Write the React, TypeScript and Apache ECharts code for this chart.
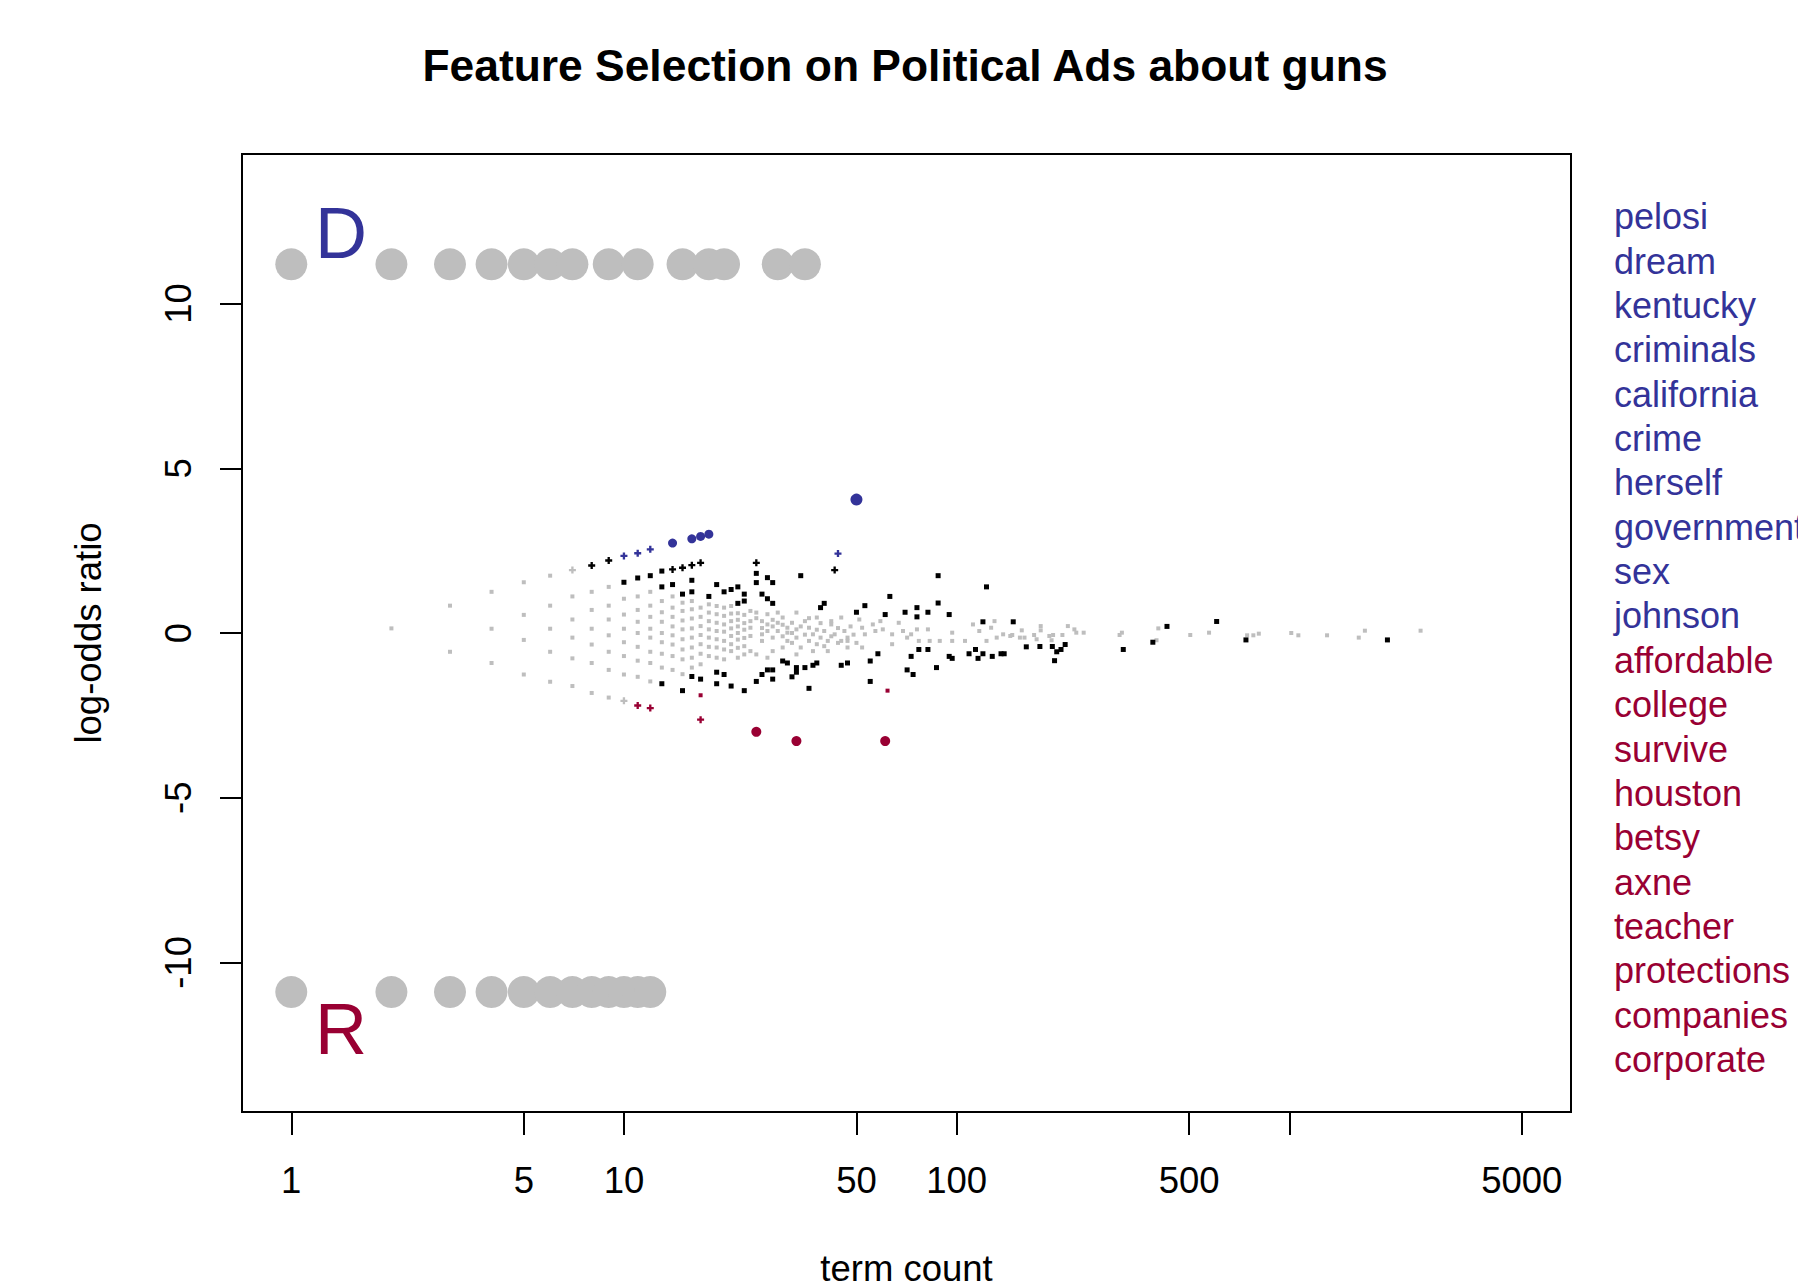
import React, { useEffect, useRef } from "react";
import * as echarts from "echarts";

// ---------- DATA ----------
const titleText = "Feature Selection on Political Ads about guns";
const xAxisTitle = "term count";
const yAxisTitle = "log-odds ratio";

const xTickCounts = [1, 5, 10, 50, 100, 500, 1000, 5000];
const xLabelCounts = [1, 5, 10, 50, 100, 500, 5000];
const yTickValues = [-10, -5, 0, 5, 10];
const xRangeCounts = [0.711, 7030];
const yRange = [-14.54, 14.54];

// words used only by Democrats / only by Republicans: [term count, log-odds]
const demOnly = [
  [1, 11.19], [2, 11.19], [3, 11.19], [4, 11.19], [5, 11.19], [6, 11.19], [7, 11.19],
  [9, 11.19], [11, 11.19], [15, 11.19], [18, 11.19], [20, 11.19], [29, 11.19], [35, 11.19],
];
const repOnly = [
  [1, -10.9], [2, -10.9], [3, -10.9], [4, -10.9], [5, -10.9], [6, -10.9], [7, -10.9],
  [8, -10.9], [9, -10.9], [10, -10.9], [11, -10.9], [12, -10.9],
];

// non-significant terms
const grayPoints = [
  [2, 0.14],
  [3, 0.83], [3, -0.57],
  [4, 1.25], [4, 0.13], [4, -0.91],
  [5, 1.54], [5, 0.55], [5, -0.21], [5, -1.26],
  [6, 1.74], [6, 0.83], [6, 0.13], [6, -0.57], [6, -1.48],
  [7, 1.11], [7, 0.41], [7, -0.14], [7, -0.77], [7, -1.61],
  [8, 1.25], [8, 0.7], [8, 0.13], [8, -0.35], [8, -0.91], [8, -1.82],
  [9, 1.4], [9, 0.83], [9, 0.41], [9, -0.07], [9, -0.57], [9, -1.12], [9, -1.96],
  [10, 1.04], [10, 0.56], [10, 0.13], [10, -0.28], [10, -0.7], [10, -1.26],
  [11, 1.11], [11, 0.7], [11, 0.34], [11, 0.0], [11, -0.42], [11, -0.84], [11, -1.33],
  [12, 1.25], [12, 0.83], [12, 0.49], [12, 0.13], [12, -0.14], [12, -0.57], [12, -0.91], [12, -1.47],
  [13, 0.97], [13, 0.63], [13, 0.34], [13, 0.0], [13, -0.28], [13, -0.63], [13, -1.05],
  [14, 1.11], [14, 0.77], [14, 0.49], [14, 0.2], [14, -0.07], [14, -0.35], [14, -0.7], [14, -1.12],
  [15, 0.92], [15, 0.67], [15, 0.38], [15, 0.11], [15, -0.19], [15, -0.5], [15, -0.8], [15, -1.25],
  [16, 0.97], [16, 0.72], [16, 0.44], [16, 0.14], [16, -0.14], [16, -0.44], [16, -0.75], [16, -1.05],
  [17, 0.77], [17, 0.49], [17, 0.21], [17, -0.06], [17, -0.34], [17, -0.63], [17, -0.95],
  [18, 0.87], [18, 0.62], [18, 0.36], [18, 0.11], [18, -0.14], [18, -0.42], [18, -0.7],
  [19, 0.82], [19, 0.57], [19, 0.31], [19, 0.06], [19, -0.19], [19, -0.44], [19, -0.75],
  [20, 0.77], [20, 0.52], [20, 0.26], [20, 0.04], [20, -0.24], [20, -0.5], [20, -0.8],
  [21, 0.82], [21, 0.59], [21, 0.36], [21, 0.14], [21, -0.09], [21, -0.34], [21, -0.55],
  [22, 0.6], [22, 0.4], [22, 0.2], [22, 0.0], [22, -0.2], [22, -0.45], [22, -0.75],
  [23, 0.55], [23, 0.3], [23, 0.1], [23, -0.15], [23, -0.4], [23, -0.65],
  [24, 0.67], [24, 0.16], [24, 0.36], [24, -0.09], [25, 0.62], [26, 0.36], [26, -0.04], [26, -0.24],
  [27, 0.26], [27, 0.06], [27, 0.57], [28, -0.14], [29, 0.62], [29, 0.31], [29, 0.06], [30, 0.47],
  [31, 0.16], [31, 0.01], [31, -0.24], [32, 0.31], [33, 0.11], [33, 0.62], [33, -0.14], [34, -0.44],
  [35, 0.36], [36, 0.16], [36, -0.24], [37, -0.04], [38, 0.47], [38, -0.34], [39, -0.14], [40, 0.06],
  [41, -0.24], [42, 0.26], [42, 0.36], [43, -0.04], [45, -0.24], [46, 0.06], [47, -0.14], [47, -0.44],
  [24, -0.55], [25, -0.65], [27, -0.75], [28, -0.55], [30, -0.44], [33, -0.65], [37, -0.55], [41, -0.55],
  [25, 0.45], [26, 0.15], [28, 0.4], [28, 0.2], [30, 0.25], [30, -0.1], [32, 0.0], [32, -0.3],
  [34, 0.2], [35, -0.05], [36, 0.45], [38, 0.1], [39, 0.3], [40, -0.4], [42, -0.1], [44, 0.15],
  [44, -0.3], [48, 0.2], [49, -0.05], [50, -0.3],
  [45, 0.47], [51, 0.41], [52, 0.16], [53, -0.04], [56, 0.26], [57, 0.06], [59, 0.36], [60, 0.11],
  [64, -0.04], [67, 0.31], [69, 0.06], [71, -0.14], [73, -0.04], [76, 0.11], [77, -0.24], [82, 0.11],
  [83, -0.24], [89, -0.24], [97, 0.01], [97, -0.24], [106, -0.24], [112, 0.26], [117, 0.06], [123, -0.24],
  [127, 0.16], [130, 0.36], [132, -0.14], [138, -0.04], [145, -0.09], [47, -0.24], [52, -0.44], [64, -0.34],
  [147, -0.06], [157, 0.08], [155, -0.14], [160, -0.14], [171, -0.06], [174, -0.19], [179, 0.21], [179, 0.08],
  [190, -0.09], [193, -0.22], [195, -0.06], [208, -0.06], [216, 0.21], [226, 0.11], [229, 0.01], [241, 0.01],
  [309, -0.06], [314, 0.01], [404, 0.14], [399, -0.22], [504, -0.06], [574, 0.01],
  [747, -0.07], [780, -0.07], [810, -0.02], [1014, 0.0], [1065, -0.07], [1299, -0.07], [1618, -0.14],
  [1688, 0.07], [2482, 0.07],
];
const grayLarger = [[7, 1.91], [10, -2.06]];

// significant but not top-ranked terms
const blackPoints = [
  [10, 1.54], [11, 1.67], [12, 1.74], [13, 1.88], [13, 1.4], [14, 1.47], [15, 1.18], [16, 1.6],
  [16, 1.25], [18, 1.11], [19, 1.47], [20, 1.25], [21, 1.32], [22, 1.4], [23, 1.18], [22, 0.9],
  [23, 0.97], [25, 1.81], [25, 1.53], [27, 1.68], [28, 1.53], [26, 1.18], [27, 1.04], [28, 0.9],
  [34, 1.74], [39, 0.77], [40, 0.9], [50, 0.63], [53, 0.83], [61, 0.56], [63, 1.11], [70, 0.63],
  [76, 0.77], [76, 0.49], [82, 0.63], [88, 0.91], [88, 1.74], [95, 0.56], [120, 0.34], [123, 1.4],
  [148, 0.34], [429, 0.2], [605, 0.35],
  [13, -1.54], [15, -1.75], [16, -1.32], [17, -1.4], [19, -1.19], [20, -1.26], [19, -1.54], [21, -1.61],
  [23, -1.75], [25, -1.47], [26, -1.26], [27, -1.12], [28, -1.12], [28, -1.4], [30, -0.85], [31, -0.91],
  [33, -1.05], [35, -1.05], [33, -1.19], [32, -1.33], [36, -1.68], [37, -0.98], [38, -0.91], [45, -0.98],
  [47, -0.91], [55, -0.85], [58, -0.63], [55, -1.47], [74, -1.26], [71, -1.12], [73, -0.71], [77, -0.5],
  [82, -0.5], [95, -0.71], [97, -0.77], [109, -0.63], [114, -0.5], [116, -0.77], [120, -0.63], [128, -0.71],
  [136, -0.63], [139, -0.63], [87, -1.05], [162, -0.42], [178, -0.41], [194, -0.41], [200, -0.57],
  [206, -0.5], [212, -0.35], [197, -0.84], [317, -0.5], [389, -0.28], [741, -0.21], [1973, -0.21],
];
const blackLarger = [[8, 2.05], [9, 2.2], [14, 1.93], [15, 1.98], [16, 2.06], [17, 2.13], [25, 2.13], [43, 1.91]];

// top Democratic terms
const blueSmall = [[10, 2.34], [11, 2.42], [12, 2.54], [44, 2.41]];
const blueMedium = [[14, 2.73], [16, 2.86], [17, 2.93], [18, 3.0]];
const blueLarge = [[50, 4.05]];
// top Republican terms
const redTiny = [[17, -1.89], [62, -1.75]];
const redSmall = [[11, -2.2], [12, -2.28], [17, -2.63]];
const redMedium = [[25, -3.0], [33, -3.28], [61, -3.28]];

const demWords = ["pelosi", "dream", "kentucky", "criminals", "california", "crime", "herself", "government", "sex", "johnson"];
const repWords = ["affordable", "college", "survive", "houston", "betsy", "axne", "teacher", "protections", "companies", "corporate"];

const partyLetters = ["D", "R"];

// ---------- STYLE ----------
const BLUE = "#333399";
const RED = "#990033";
const GRAY = "#bebebe";
const FONT = "'Liberation Sans', Arial, Helvetica, sans-serif";
const PLUS = "path://M2,0H4V2H6V4H4V6H2V4H0V2H2Z";

const toXY = (pts: number[][]) => pts.map(([c, v]) => [Math.log10(c), v]);

export default function App() {
  const ref = useRef<HTMLDivElement>(null);

  useEffect(() => {
    if (!ref.current) return;
    const chart = echarts.init(ref.current, null, { renderer: "svg" });

    const gridLeft = 242;
    const gridTop = 154;
    const gridW = 1329;
    const gridH = 958;

    const scatter = (data: number[][], symbol: string, size: number, color: string) => ({
      type: "scatter",
      data: toXY(data),
      symbol,
      symbolSize: size,
      itemStyle: { color, opacity: 1 },
      silent: true,
      z: 2,
    });

    const wordStart = 216.7;
    const wordStep = 44.36;
    const words = [...demWords, ...repWords];

    chart.setOption({
      animation: false,
      backgroundColor: "#ffffff",
      title: {
        text: titleText,
        left: 900,
        top: 38,
        textAlign: "center",
        textStyle: { fontFamily: FONT, fontSize: 44.4, fontWeight: "bold", color: "#000" },
      },
      grid: {
        left: gridLeft,
        top: gridTop,
        width: gridW,
        height: gridH,
        show: true,
        borderColor: "#000",
        borderWidth: 2,
        backgroundColor: "transparent",
        containLabel: false,
        outerBoundsMode: "none",
      },
      xAxis: {
        type: "value",
        position: "bottom",
        min: Math.log10(xRangeCounts[0]),
        max: Math.log10(xRangeCounts[1]),
        name: xAxisTitle,
        nameLocation: "middle",
        nameGap: 138,
        nameTextStyle: { fontFamily: FONT, fontSize: 36.5, color: "#000" },
        axisLine: { show: false, onZero: false },
        splitLine: { show: false },
        axisTick: {
          show: true,
          length: 23,
          lineStyle: { color: "#000", width: 2 },
          customValues: xTickCounts.map((c) => Math.log10(c)),
        },
        axisLabel: {
          show: true,
          margin: 50,
          fontFamily: FONT,
          fontSize: 36.5,
          color: "#000",
          customValues: xLabelCounts.map((c) => Math.log10(c)),
          formatter: (v: number) => String(Math.round(Math.pow(10, v))),
        },
      },
      yAxis: {
        type: "value",
        position: "left",
        min: yRange[0],
        max: yRange[1],
        name: yAxisTitle,
        nameLocation: "middle",
        nameGap: 135,
        nameTextStyle: { fontFamily: FONT, fontSize: 36.5, color: "#000" },
        axisLine: { show: false, onZero: false },
        splitLine: { show: false },
        axisTick: {
          show: true,
          length: 22,
          lineStyle: { color: "#000", width: 2 },
          customValues: yTickValues,
        },
        axisLabel: {
          show: true,
          rotate: 90,
          margin: 45,
          fontFamily: FONT,
          fontSize: 36.5,
          color: "#000",
          customValues: yTickValues,
        },
      },
      series: [
        scatter(grayPoints, "rect", 4, GRAY),
        scatter(grayLarger, PLUS, 7, GRAY),
        scatter(blackPoints, "rect", 5, "#000"),
        scatter(blackLarger, PLUS, 7, "#000"),
        scatter(demOnly, "circle", 32, GRAY),
        scatter(repOnly, "circle", 32, GRAY),
        scatter(blueSmall, PLUS, 7, BLUE),
        scatter(blueMedium, "circle", 9, BLUE),
        scatter(blueLarge, "circle", 12, BLUE),
        scatter(redTiny, "rect", 4, RED),
        scatter(redSmall, PLUS, 7, RED),
        scatter(redMedium, "circle", 10, RED),
      ],
      graphic: [
        {
          type: "text",
          x: 341,
          y: 233,
          style: { text: partyLetters[0], fill: BLUE, font: `72px ${FONT}`, textAlign: "center", textVerticalAlign: "middle" },
          z: 10,
        },
        {
          type: "text",
          x: 341,
          y: 1029,
          style: { text: partyLetters[1], fill: RED, font: `72px ${FONT}`, textAlign: "center", textVerticalAlign: "middle" },
          z: 10,
        },
        ...words.map((w, i) => ({
          type: "text",
          x: 1614,
          y: wordStart + i * wordStep,
          style: {
            text: w,
            fill: i < demWords.length ? BLUE : RED,
            font: `36px ${FONT}`,
            textAlign: "left",
            textVerticalAlign: "middle",
          },
          z: 10,
        })),
      ],
    });

    return () => chart.dispose();
  }, []);

  return (
    <div
      ref={ref}
      style={{ position: "fixed", left: 0, top: 0, width: 1798, height: 1282, background: "#fff" }}
    />
  );
}
